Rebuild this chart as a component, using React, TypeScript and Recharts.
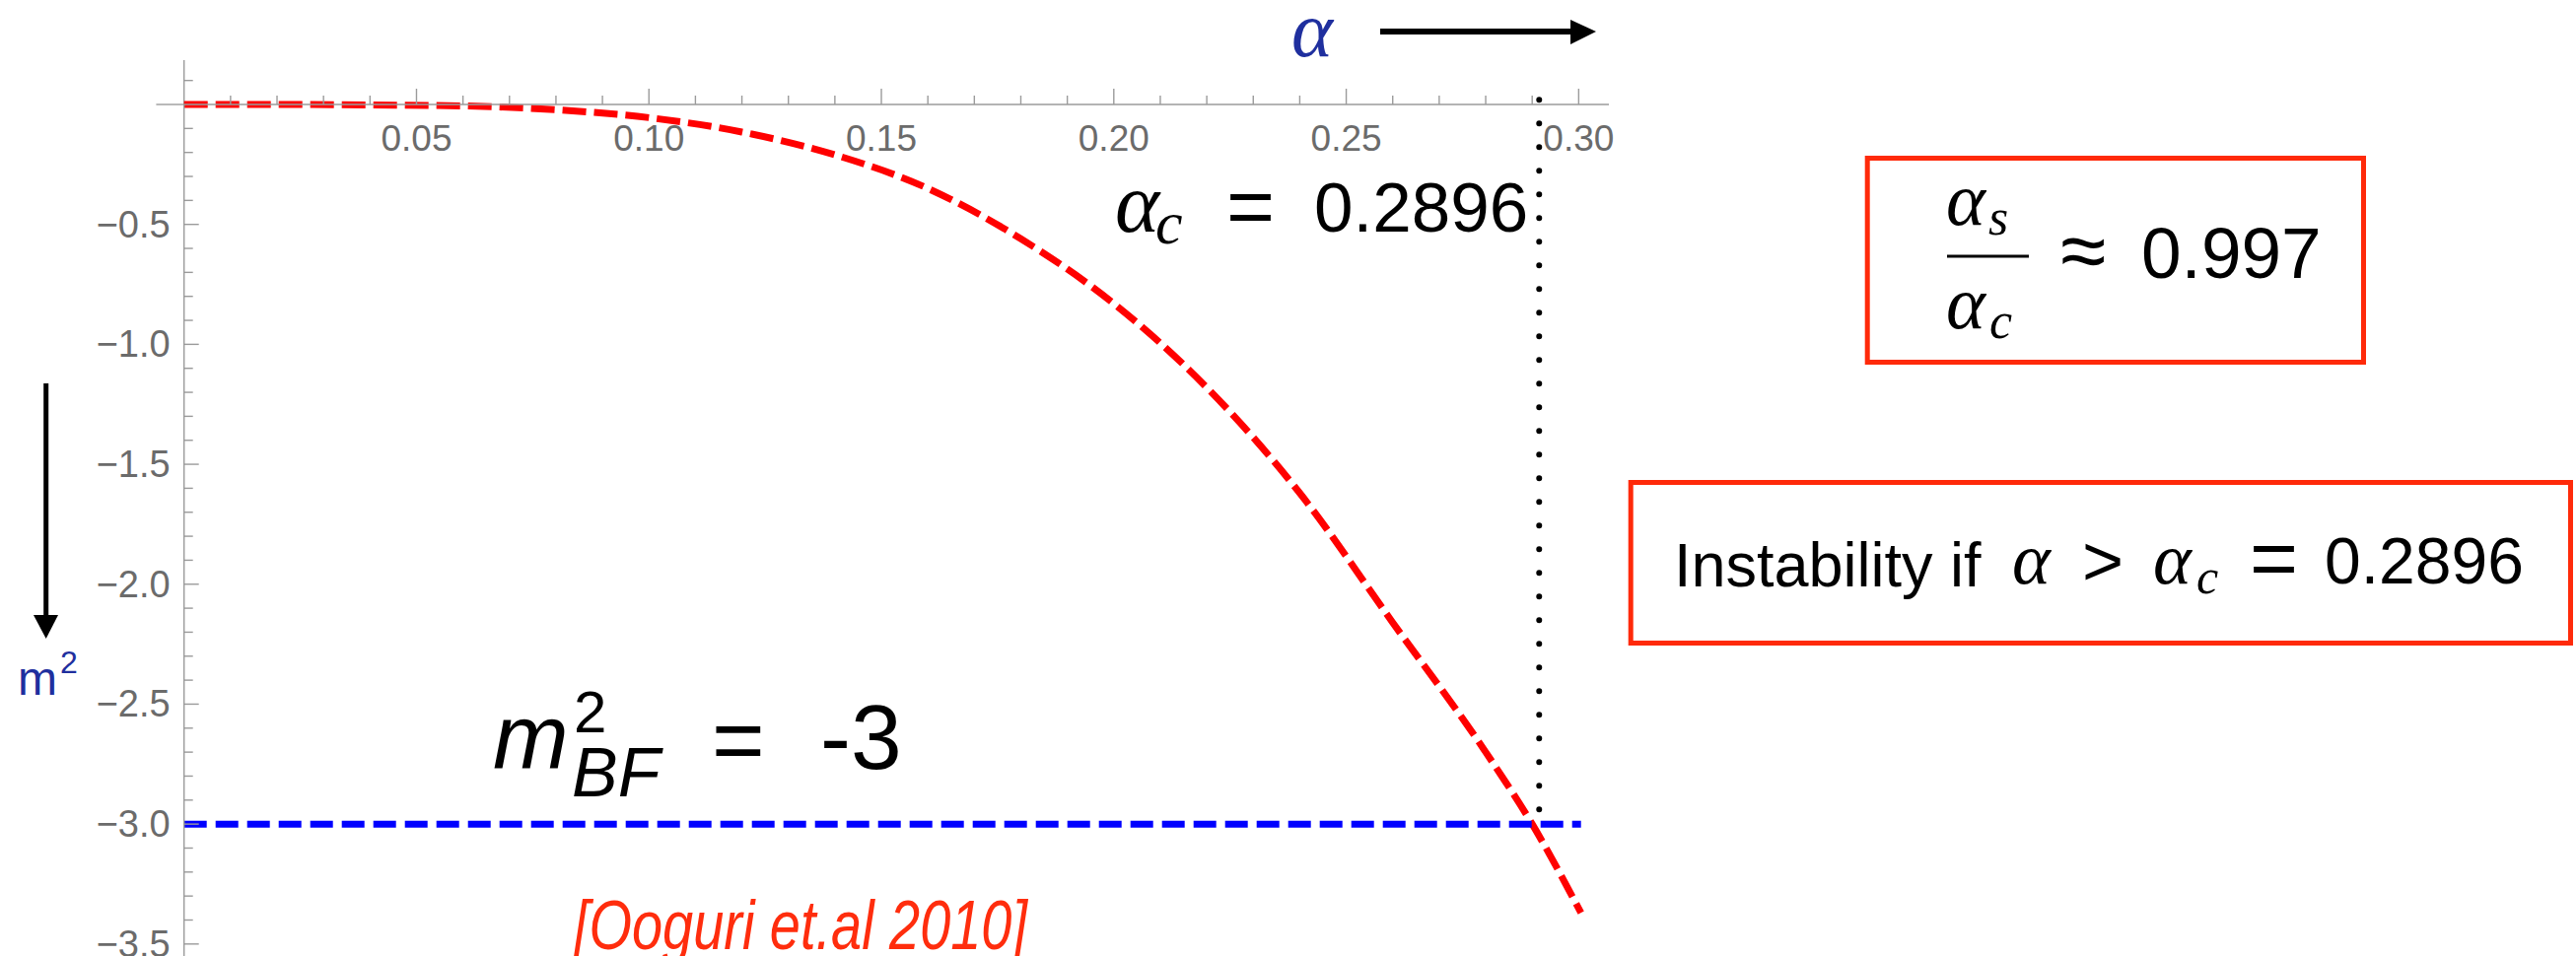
// m^2 of the bulk scalar against alpha, with the BF bound and alpha_c marker
import React from 'react'
import { LineChart, Line, XAxis, YAxis, ReferenceLine } from 'recharts'

// red dashed curve
const ALPHA = [0, 0.02, 0.04, 0.06, 0.08, 0.1, 0.12, 0.14, 0.16, 0.18, 0.2, 0.22, 0.24, 0.26, 0.28, 0.29, 0.3005]
const M2 = [0, 0, -0.002, -0.006, -0.022, -0.055, -0.115, -0.21, -0.35, -0.56, -0.83, -1.18, -1.62, -2.16, -2.7, -3.0, -3.37]

// BF bound (blue dashed)
const BF_ALPHA = [0, 0.3005]
const BF_M2 = [-3, -3]

// critical alpha marker (dotted black)
const ALPHA_C = 0.2915
const ALPHA_C_SPAN = [0.02, -2.94]

const X_DOMAIN = [0, 0.3065]
const Y_DOMAIN = [-3.55, 0]
const X_AXIS_START = -0.006
const Y_AXIS_END = 0.185

const X_TICKS = Array.from({ length: 30 }, (_, i) => +((i + 1) * 0.01).toFixed(2))
const Y_TICKS = Array.from({ length: 37 }, (_, i) => +(0.1 - i * 0.1).toFixed(1)).filter((v) => v !== 0)

const W = 2613
const H = 970
const AXIS = '#9b9b9b'
const LABEL = '#6b6b6b'
const SANS = "'Liberation Sans', Arial, sans-serif"
const SERIF = "'Liberation Serif', 'DejaVu Serif', serif"
const BOX_RED = '#ff2a0a'
const DARK_BLUE = '#1f2f9e'

const curve = ALPHA.map((a, i) => ({ a, m: M2[i] }))
const bf = BF_ALPHA.map((a, i) => ({ a, m: BF_M2[i] }))

function XTick(props: any) {
  const { x, y, payload } = props
  const v = payload.value as number
  const major = Math.round(v * 100) % 5 === 0
  return (
    <g>
      <line x1={x} x2={x} y1={y} y2={y - (major ? 16 : 9)} stroke={AXIS} strokeWidth={1.4} />
      {major && (
        <text x={x} y={y + 47} textAnchor="middle" fontFamily={SANS} fontSize={37} fill={LABEL}>
          {v.toFixed(2)}
        </text>
      )}
    </g>
  )
}

function YTick(props: any) {
  const { x, y, payload } = props
  const v = payload.value as number
  const major = Math.round(v * 10) % 5 === 0
  return (
    <g>
      <line x1={x} x2={x + (major ? 15 : 9)} y1={y} y2={y} stroke={AXIS} strokeWidth={1.4} />
      {major && v < 0 && (
        <text x={x - 14} y={y + 13} textAnchor="end" fontFamily={SANS} fontSize={38} fill={LABEL}>
          {'\u2212' + Math.abs(v).toFixed(1)}
        </text>
      )}
    </g>
  )
}

function Annotations() {
  return (
    <svg width={W} height={H} style={{ position: 'absolute', left: 0, top: 0, pointerEvents: 'none' }}>
      {/* alpha direction */}
      <text x={1310} y={57} fontFamily={SERIF} fontStyle="italic" fontSize={80} fill={DARK_BLUE}>α</text>
      <line x1={1400} y1={32} x2={1596} y2={32} stroke="#000" strokeWidth={6} />
      <polygon points="1593,20 1619,32 1593,45" fill="#000" />

      {/* alpha_c label */}
      <text x={1131} y={235} fontFamily={SERIF} fontStyle="italic" fontSize={86} fill="#000">α</text>
      <text x={1172} y={247} fontFamily={SERIF} fontStyle="italic" fontSize={62} fill="#000">c</text>
      <text x={1244} y={238} fontFamily={SANS} fontSize={84} fill="#000">=</text>
      <text x={1333} y={235} fontFamily={SANS} fontSize={71} fill="#000">0.2896</text>

      {/* m^2 direction */}
      <line x1={46.7} y1={389} x2={46.7} y2={627} stroke="#000" strokeWidth={5} />
      <polygon points="34,624 59,624 46.7,648" fill="#000" />
      <text x={18} y={705} fontFamily={SANS} fontSize={48} fill={DARK_BLUE}>m</text>
      <text x={61} y={683} fontFamily={SANS} fontSize={32} fill={DARK_BLUE}>2</text>

      {/* BF bound label */}
      <text x={500} y={780} fontFamily={SANS} fontStyle="italic" fontSize={92} fill="#000">m</text>
      <text x={582} y={743} fontFamily={SANS} fontSize={60} fill="#000">2</text>
      <text x={580} y={808} fontFamily={SANS} fontStyle="italic" fontSize={70} fill="#000">BF</text>
      <text x={722} y={783} fontFamily={SANS} fontSize={92} fill="#000">=</text>
      <text x={832} y={780} fontFamily={SANS} fontSize={93} fill="#000">-3</text>

      <text x={582} y={963} fontFamily={SANS} fontStyle="italic" fontSize={70} fill="#ff2d0d"
        textLength={460} lengthAdjust="spacingAndGlyphs">[Ooguri et.al 2010]</text>

      {/* ratio box */}
      <rect x={1894.2} y={160.5} width={503.3} height={207} fill="none" stroke={BOX_RED} strokeWidth={5} />
      <text x={1974} y={228} fontFamily={SERIF} fontStyle="italic" fontSize={76} fill="#000">α</text>
      <text x={2017} y={238} fontFamily={SERIF} fontStyle="italic" fontSize={52} fill="#000">s</text>
      <line x1={1975} y1={260} x2={2058} y2={260} stroke="#000" strokeWidth={3} />
      <text x={1974} y={333} fontFamily={SERIF} fontStyle="italic" fontSize={76} fill="#000">α</text>
      <text x={2018} y={343} fontFamily={SERIF} fontStyle="italic" fontSize={52} fill="#000">c</text>
      <text x={2090} y={283} fontFamily={SANS} fontSize={84} fill="#000">≈</text>
      <text x={2172} y={282} fontFamily={SANS} fontSize={73} fill="#000">0.997</text>

      {/* instability box */}
      <rect x={1654.2} y={489.5} width={953.3} height={163} fill="none" stroke={BOX_RED} strokeWidth={5} />
      <text x={1698} y={595} fontFamily={SANS} fontSize={63} fill="#000">Instability if</text>
      <text x={2041} y={592} fontFamily={SERIF} fontStyle="italic" fontSize={74} fill="#000">α</text>
      <text x={2112} y={594} fontFamily={SANS} fontSize={72} fill="#000">&gt;</text>
      <text x={2184} y={592} fontFamily={SERIF} fontStyle="italic" fontSize={74} fill="#000">α</text>
      <text x={2228} y={602} fontFamily={SERIF} fontStyle="italic" fontSize={50} fill="#000">c</text>
      <text x={2282} y={595} fontFamily={SANS} fontSize={84} fill="#000">=</text>
      <text x={2358} y={592} fontFamily={SANS} fontSize={66} fill="#000">0.2896</text>
    </svg>
  )
}

export default function App() {
  return (
    <div style={{ position: 'relative', width: W, height: H, background: '#fff' }}>
      <style>{'body{margin:0}'}</style>
      <LineChart width={W} height={H} margin={{ top: 76, left: 126.7, right: 981, bottom: 0 }}>
        <XAxis
          dataKey="a"
          type="number"
          orientation="top"
          domain={X_DOMAIN}
          ticks={X_TICKS}
          interval={0}
          height={30}
          tickSize={0}
          tickMargin={0}
          tickLine={false}
          axisLine={{ stroke: AXIS, strokeWidth: 1.4 }}
          tick={(p: any) => <XTick {...p} />}
        />
        <YAxis
          type="number"
          domain={Y_DOMAIN}
          ticks={Y_TICKS}
          interval={0}
          width={60}
          tickSize={0}
          tickMargin={0}
          tickLine={false}
          axisLine={{ stroke: AXIS, strokeWidth: 1.4 }}
          tick={(p: any) => <YTick {...p} />}
        />
        {/* axis pieces beyond the plotted range */}
        <ReferenceLine segment={[{ x: X_AXIS_START, y: 0 }, { x: 0, y: 0 }]} ifOverflow="visible" stroke={AXIS} strokeWidth={1.4} />
        <ReferenceLine segment={[{ x: 0, y: 0 }, { x: 0, y: Y_AXIS_END }]} ifOverflow="visible" stroke={AXIS} strokeWidth={1.4} />
        <Line data={curve} dataKey="m" type="monotone" stroke="#ff0000" strokeWidth={7} strokeDasharray="24 8" dot={false} activeDot={false} isAnimationActive={false} />
        <Line data={bf} dataKey="m" type="linear" stroke="#0000ff" strokeWidth={7} strokeDasharray="23 9" dot={false} activeDot={false} isAnimationActive={false} />
        <ReferenceLine
          segment={[{ x: ALPHA_C, y: ALPHA_C_SPAN[0] }, { x: ALPHA_C, y: ALPHA_C_SPAN[1] }]}
          ifOverflow="visible"
          stroke="#000"
          strokeWidth={6}
          strokeDasharray="0 24"
          strokeLinecap="round"
        />
      </LineChart>
      <Annotations />
    </div>
  )
}
